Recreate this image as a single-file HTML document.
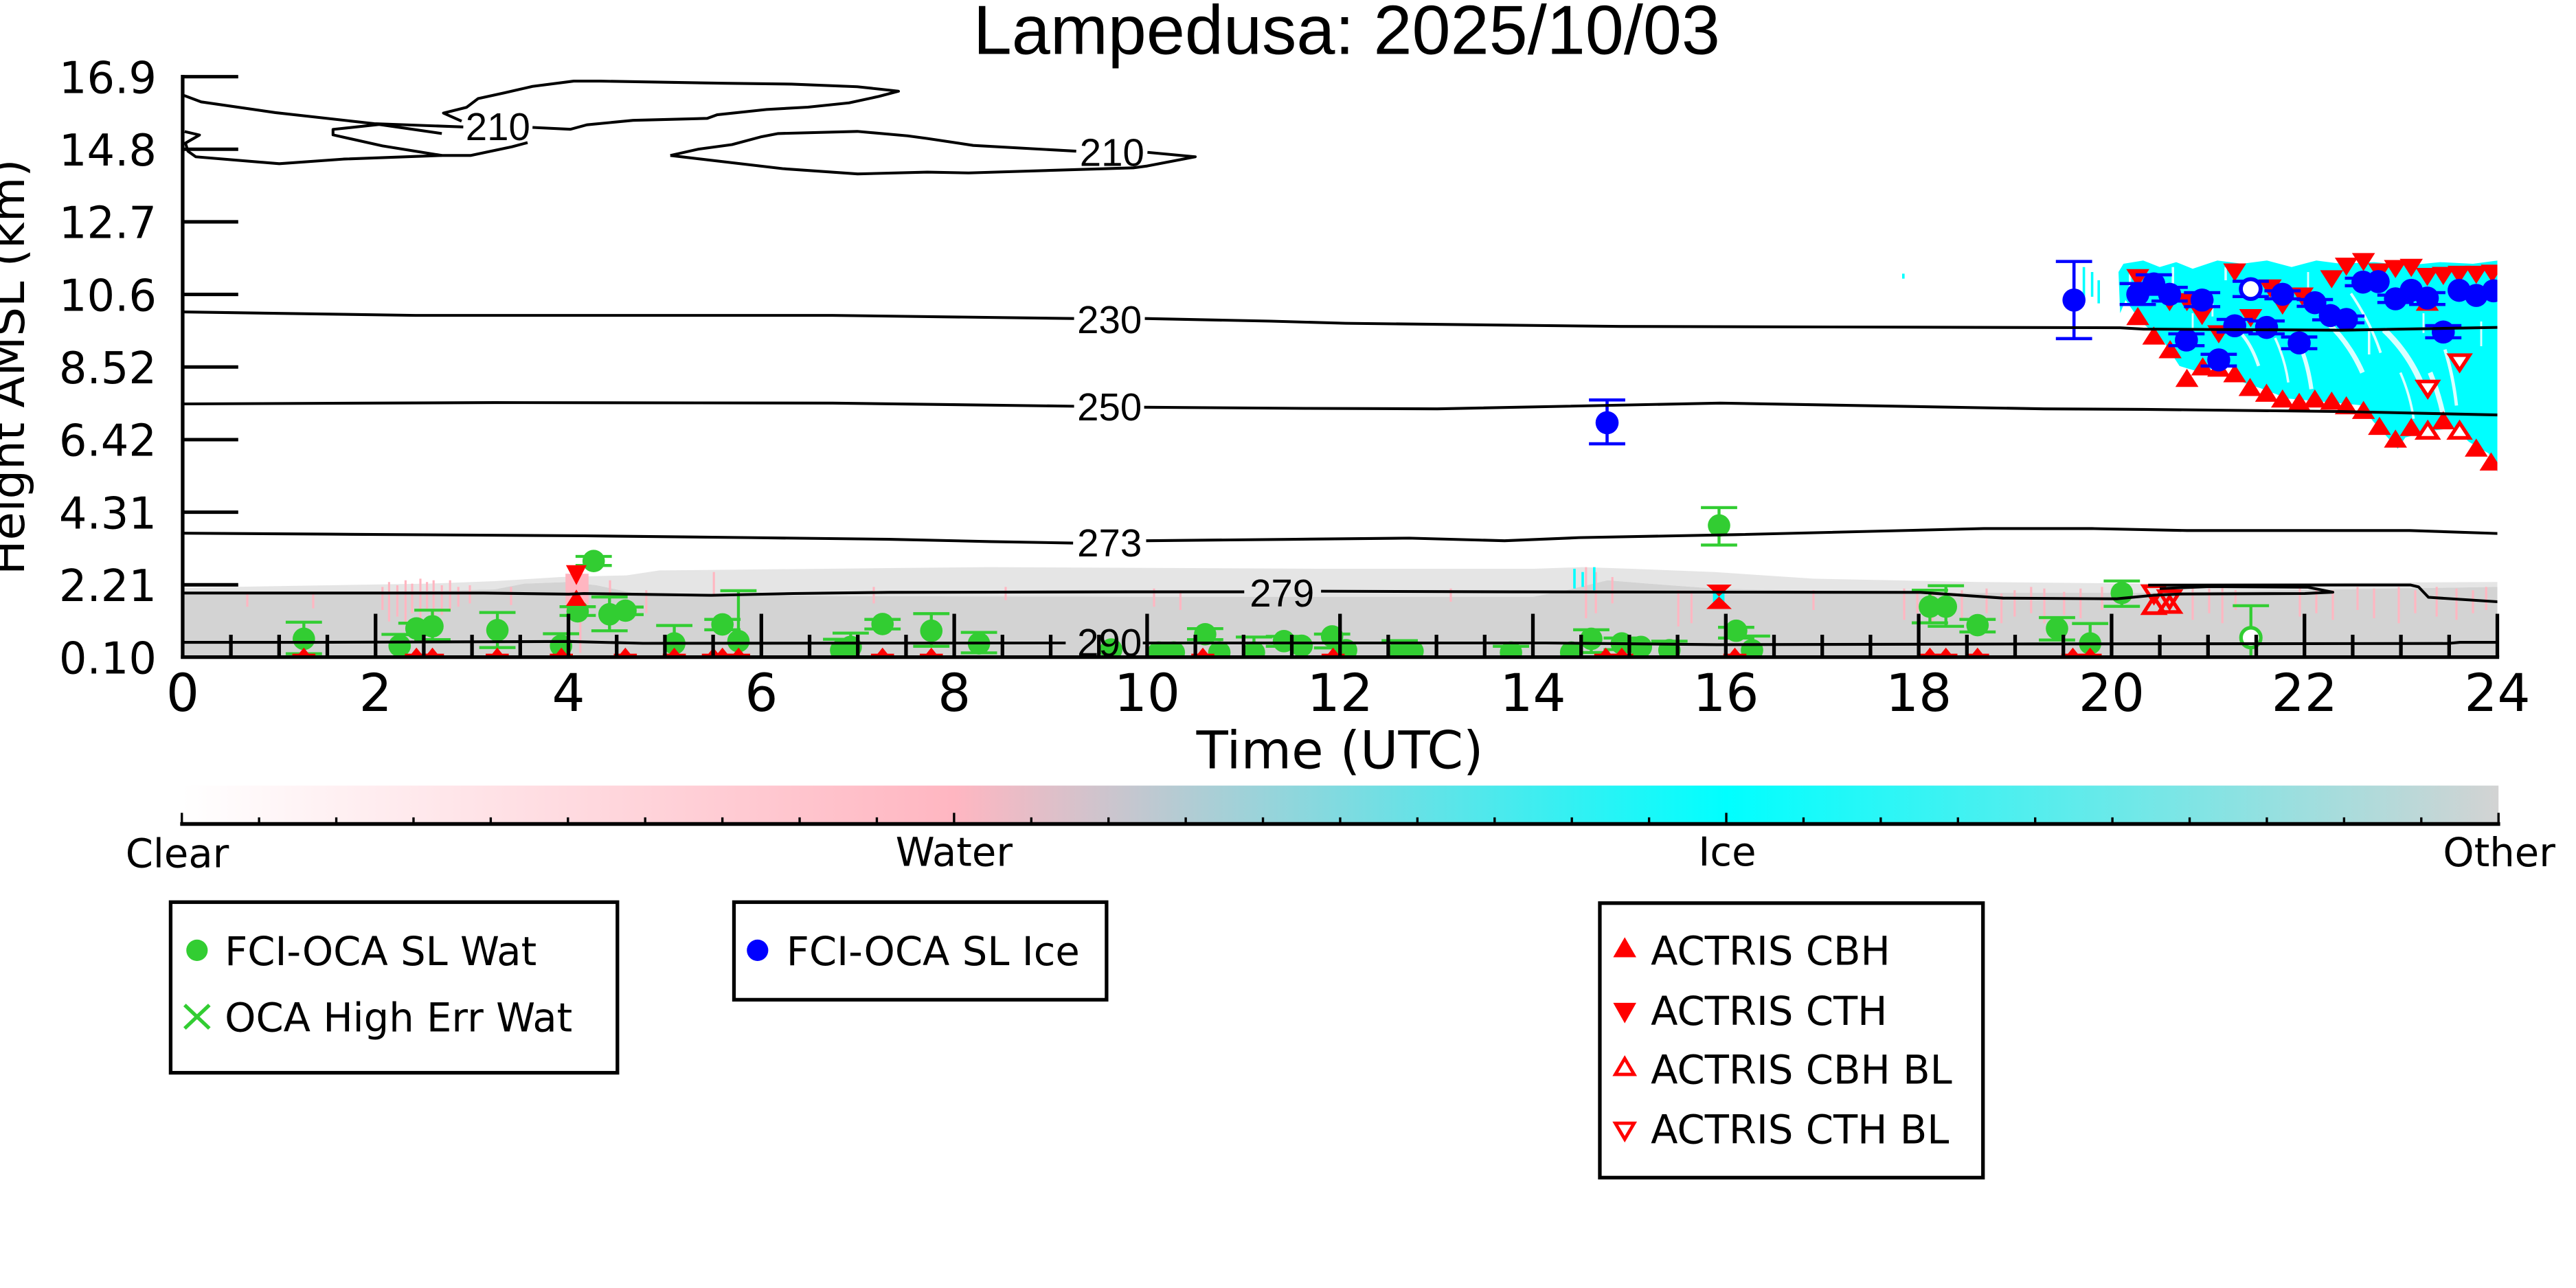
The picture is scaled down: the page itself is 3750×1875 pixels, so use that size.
<!DOCTYPE html>
<html><head><meta charset="utf-8"><style>
html,body{margin:0;padding:0;background:#fff;}
svg{display:block;}
</style></head><body>
<svg xmlns="http://www.w3.org/2000/svg" width="3750" height="1875" viewBox="0 0 1562.5 781.25">
<defs>
<linearGradient id="cb" x1="0" y1="0" x2="1" y2="0">
<stop offset="0" stop-color="#ffffff"/>
<stop offset="0.3333" stop-color="#ffb6c1"/>
<stop offset="0.6667" stop-color="#00ffff"/>
<stop offset="1" stop-color="#d3d3d3"/>
</linearGradient>
<clipPath id="pc"><rect x="110.8" y="40" width="1404" height="358.5"/></clipPath>
<path id="tu" d="M0,-5.5 L7,5.5 L-7,5.5Z" fill="#ff0000"/>
<path id="td" d="M-7,-5.5 L7,-5.5 L0,5.5Z" fill="#ff0000"/>
<path id="tuo" d="M0,-4.5 L6,4.6 L-6,4.6Z" fill="#fff" stroke="#ff0000" stroke-width="2.2"/>
<path id="tdo" d="M-6,-4.6 L6,-4.6 L0,4.5Z" fill="#fff" stroke="#ff0000" stroke-width="2.2"/>
<path id="rb" d="M0,-4.7 L3,-1 L7,-1 L7,1 L-7,1 L-7,-1 L-3,-1Z" fill="#ff0000"/>
<circle id="gc" r="6.8" fill="#32cd32"/>
<circle id="bc" r="7" fill="#0000ff"/>
</defs>

<!-- Title -->
<text x="590.3" y="32.6" font-family="Liberation Sans, Arial, sans-serif" font-size="42" fill="#000">Lampedusa: 2025/10/03</text>

<g clip-path="url(#pc)">
<!-- gray Other band -->
<path d="M110.8,359.5 L110.8,356.5 L200,355 L260,354 L300,352.5 L340,350 L380,349 L400,346 L600,344 L800,345 L930,345 L960,344 L990,345 L1040,347 L1100,351 L1200,353 L1300,354 L1515,353 L1515,356 L1450,357 L1300,359.5 L1160,359.5 L1040,357 L1000,354 L975,352 L950,358 L930,362 L700,362 L500,361.5 L383,359.5 L362,355 L345,353 L318,354 L300,357.5 L230,359 Z" fill="#d3d3d3" opacity="0.6"/>
<path d="M110.8,398.5 L110.8,359.5 L230,359 L300,357.5 L318,354 L345,353 L362,355 L383,359.5 L500,361.5 L700,362 L930,362 L950,358 L975,352 L1000,354 L1040,357 L1160,359.5 L1300,359.5 L1450,357 L1515,356 L1515,398.5 Z" fill="#d3d3d3"/>
<!-- pink streaks -->
<g stroke="#ffb6c1" stroke-width="1.3">
<path d="M232,356V370 M236,353V377 M241,355V374 M246,352V378 M250,354V372 M255,351V376 M259,353V371 M263,352V377 M268,355V373 M273,352V370 M278,356V368 M285,355V366 M150,360V368 M190,359V369 M310,356V367 M370,352V362 M392,358V372 M433,347V362 M530,356V366 M610,356V364 M700,357V368 M716,358V370 M880,357V365"/>
<path d="M962,344V375 M968,347V372 M978,350V366 M1018,358V380 M1026,360V378 M1100,358V370 M1155,357V376 M1163,360V372 M1172,357V378 M1190,358V376 M1205,357V372 M1214,360V378 M1222,358V374 M1232,356V372 M1240,357V378 M1252,359V373 M1262,357V375 M1275,356V370 M1330,356V376 M1340,357V372 M1348,356V378 M1356,358V370 M1395,356V374 M1405,357V372 M1415,358V376 M1430,356V370 M1440,357V375 M1455,356V378 M1465,358V372 M1478,356V374 M1490,357V376 M1500,358V372 M1508,356V370"/>
</g>
<rect x="343" y="348" width="14" height="22" fill="#ffb6c1"/>
<path d="M352,370V396" stroke="#ffb6c1" stroke-width="1.3"/>
<!-- cyan bits -->
<g stroke="#00ffff" stroke-width="1.5">
<path d="M955,345V357 M960,347V356 M967,344V358 M1264,162V182 M1269,165V180 M1273,170V184 M1154.5,166V169"/>
</g>
<rect x="1039" y="357" width="7" height="11" fill="#00ffff"/>
<!-- cyan ice region -->
<path d="M1286,190 L1285,165 L1288,160 L1300,158 L1310,162 L1320,159 L1330,163 L1345,158 L1360,160 L1375,158 L1390,162 L1405,158 L1420,160 L1440,159 L1460,161 L1480,159 L1500,160 L1515,158 L1515.5,287.5 L1509.5,275 L1497.6,268 L1488.7,259.7 L1476.8,261 L1459,265.3 L1454.4,272.2 L1439.5,255.6 L1432,245.8 L1417.2,244.4 L1387.5,241.7 L1372.6,236 L1360.7,232 L1353,222 L1332,225 L1322,222 L1313,208 L1298,194.4 L1289.3,182 Z" fill="#00ffff"/>
<g stroke="#fff" fill="none" opacity="0.85">
<path d="M1412,196 Q1425,208 1433,226" stroke-width="3"/>
<path d="M1446,200 Q1462,215 1470,236" stroke-width="3.5"/>
<path d="M1474,226 Q1479,238 1482,252" stroke-width="3"/>
<path d="M1396,212 Q1400,222 1402,236" stroke-width="2.5"/>
<path d="M1300,200 L1312,212" stroke-width="3"/>
<path d="M1360,203 Q1366,210 1370,222" stroke-width="2"/>
<path d="M1292,165 V180 M1318,162 V172 M1350,162 V170 M1437,200 V215" stroke-width="1.5"/>
<path d="M1426,178 Q1438,196 1444,214" stroke-width="1.6"/>
<path d="M1483,212 Q1488,228 1490,246" stroke-width="2"/>
<path d="M1380,205 Q1386,218 1388,232" stroke-width="1.5"/>
<path d="M1456,226 Q1462,240 1464,254" stroke-width="1.5"/>
<path d="M1330,190 V200 M1342,180 V192 M1400,165 V175 M1470,190 V202 M1505,195 V210" stroke-width="1.2"/>
</g>

<!-- green water points with error bars -->
<g stroke="#32cd32" stroke-width="1.8" fill="none">
<path d="M184.3,377.4V396.5 M173.3,377.4h22 M173.3,396.5h22"/>
<path d="M242.4,384.8V398 M231.4,384.8h22"/>
<path d="M252.6,378V385 M241.6,378h22 M241.6,385h22"/>
<path d="M262.3,370.1V388 M251.3,370.1h22 M251.3,388h22"/>
<path d="M301.7,371.5V392.8 M290.7,371.5h22 M290.7,392.8h22"/>
<path d="M340.3,384.4V399 M329.3,384.4h22"/>
<path d="M350.4,368V373.3 M339.4,368h22 M339.4,373.3h22"/>
<path d="M360.1,337.5V343 M349.1,337.5h22 M349.1,343h22"/>
<path d="M369.7,362.1V382.6 M358.7,362.1h22 M358.7,382.6h22"/>
<path d="M379.4,368.2V372.8 M368.4,368.2h22 M368.4,372.8h22"/>
<path d="M409,379.4V400 M398,379.4h22"/>
<path d="M438.2,375.7V382 M427.2,375.7h22 M427.2,382h22"/>
<path d="M447.9,358.3V400 M436.9,358.3h22"/>
<path d="M510.2,387.8V400 M499.2,387.8h22"/>
<path d="M516,384V400 M505,384h22"/>
<path d="M535.3,375.7V381.5 M524.3,375.7h22 M524.3,381.5h22"/>
<path d="M564.9,372.2V392 M553.9,372.2h22 M553.9,392h22"/>
<path d="M593.8,383.6V396 M582.8,383.6h22 M582.8,396h22"/>
<path d="M731,381.3V388 M720,381.3h22 M720,388h22"/>
<path d="M760.6,386.4V400 M749.6,386.4h22"/>
<path d="M778.8,386V392 M767.8,386h22 M767.8,392h22"/>
<path d="M808,384.6V393 M797,384.6h22 M797,393h22"/>
<path d="M849,388.6V400 M838,388.6h22"/>
<path d="M916.5,392V400 M905.5,392h22"/>
<path d="M965.2,382V395.8 M954.2,382h22 M954.2,395.8h22"/>
<path d="M983.7,387V394 M972.7,387h22 M972.7,394h22"/>
<path d="M1012.6,388.9V400 M1001.6,388.9h22"/>
<path d="M1042.7,307.9V330.6 M1031.7,307.9h22 M1031.7,330.6h22"/>
<path d="M1053.1,380.5V387 M1042.1,380.5h22 M1042.1,387h22"/>
<path d="M1062.7,385.8V400 M1051.7,385.8h22"/>
<path d="M1170.6,358V377.8 M1159.6,358h22 M1159.6,377.8h22"/>
<path d="M1180.3,355.3V379.9 M1169.3,355.3h22 M1169.3,379.9h22"/>
<path d="M1199.5,375.7V383.3 M1188.5,375.7h22 M1188.5,383.3h22"/>
<path d="M1247.7,374.6V388.2 M1236.7,374.6h22 M1236.7,388.2h22"/>
<path d="M1267.8,378.2V400 M1256.8,378.2h22"/>
<path d="M1287,352.4V367.8 M1276,352.4h22 M1276,367.8h22"/>
<path d="M1365.3,367.4V400 M1354.3,367.4h22"/>
</g>
<g>
<use href="#gc" x="184.3" y="387.5"/><use href="#gc" x="242.4" y="391.7"/><use href="#gc" x="252.6" y="381.2"/><use href="#gc" x="262.3" y="379.9"/>
<use href="#gc" x="301.7" y="382.2"/><use href="#gc" x="340.3" y="391.7"/><use href="#gc" x="350.4" y="370.8"/><use href="#gc" x="360.1" y="340.3"/>
<use href="#gc" x="369.7" y="372.6"/><use href="#gc" x="379.4" y="370.4"/><use href="#gc" x="409" y="390.3"/><use href="#gc" x="438.2" y="378.75"/>
<use href="#gc" x="447.9" y="388.9"/><use href="#gc" x="510.2" y="394.4"/><use href="#gc" x="516" y="392.4"/><use href="#gc" x="535.3" y="378.5"/>
<use href="#gc" x="564.9" y="382.6"/><use href="#gc" x="593.8" y="390.3"/><use href="#gc" x="674" y="394"/><use href="#gc" x="702.8" y="395.8"/>
<use href="#gc" x="712" y="395.8"/><use href="#gc" x="731" y="384.7"/><use href="#gc" x="739.6" y="395.8"/><use href="#gc" x="760.6" y="395.8"/>
<use href="#gc" x="778.8" y="388.9"/><use href="#gc" x="789.5" y="391.7"/><use href="#gc" x="808" y="386"/><use href="#gc" x="816.5" y="394.4"/>
<use href="#gc" x="849" y="395"/><use href="#gc" x="856.8" y="395"/><use href="#gc" x="916.5" y="395.8"/><use href="#gc" x="953" y="395.8"/>
<use href="#gc" x="965.2" y="387.5"/><use href="#gc" x="983.7" y="390.3"/><use href="#gc" x="995.3" y="392.4"/><use href="#gc" x="1012.6" y="394.4"/>
<use href="#gc" x="1042.7" y="318.75"/><use href="#gc" x="1053.1" y="382.6"/><use href="#gc" x="1062.7" y="394.4"/><use href="#gc" x="1170.6" y="368"/>
<use href="#gc" x="1180.3" y="368"/><use href="#gc" x="1199.5" y="379.2"/><use href="#gc" x="1247.7" y="381.25"/><use href="#gc" x="1267.8" y="390.3"/>
<use href="#gc" x="1287" y="359.7"/>
<circle cx="1365.3" cy="386.8" r="6" fill="#fff" stroke="#32cd32" stroke-width="2.2"/>
</g>

<!-- red small CBH near ground -->
<g>
<use href="#rb" x="184.3" y="397.5"/><use href="#rb" x="252.6" y="397.5"/><use href="#rb" x="262.3" y="397.5"/><use href="#rb" x="301.6" y="397.5"/>
<use href="#rb" x="340.5" y="397.5"/><use href="#rb" x="379.3" y="397.5"/><use href="#rb" x="409" y="397.5"/><use href="#rb" x="432.7" y="397.5"/>
<use href="#rb" x="438.2" y="397.5"/><use href="#rb" x="448" y="397.5"/><use href="#rb" x="535.3" y="397.5"/><use href="#rb" x="564.9" y="397.5"/>
<use href="#rb" x="729.6" y="397.5"/><use href="#rb" x="808.6" y="397.5"/><use href="#rb" x="974" y="397.5"/><use href="#rb" x="983.7" y="397.5"/>
<use href="#rb" x="1052.3" y="397.5"/><use href="#rb" x="1170.6" y="397.5"/><use href="#rb" x="1180.3" y="397.5"/><use href="#rb" x="1199.5" y="397.5"/>
<use href="#rb" x="1257.3" y="397.5"/><use href="#rb" x="1267.8" y="397.5"/>
</g>
<!-- hourglasses -->
<path d="M343.3,342.8 L355.8,342.8 L349.6,354.9Z M349.6,357.6 L355.8,367.5 L343.3,367.5Z" fill="#ff0000"/>
<path d="M1035,354.6 L1050.4,354.6 L1042.7,361.8Z M1042.7,361.8 L1050.4,369.4 L1035,369.4Z" fill="#ff0000"/>
<!-- open BL triangles near 20.5h -->
<g fill="none" stroke="#ff0000" stroke-width="2.2">
<path d="M1300.2,355.6 L1312.8,355.6 L1306.5,365.3Z"/>
<path d="M1309.7,358.6 L1322.3,358.6 L1316,368.7Z"/>
<path d="M1306.5,362 L1312.8,371.9 L1300.2,371.9Z"/>
<path d="M1316,362 L1322.3,371.2 L1309.7,371.2Z"/>
</g>

<!-- red filled CTH (down) -->
<g>
<use href="#td" x="1296.7" y="168.75"/><use href="#td" x="1316" y="183.3"/><use href="#td" x="1326.5" y="183.3"/><use href="#td" x="1335.7" y="191.7"/>
<use href="#td" x="1345.8" y="202.8"/><use href="#td" x="1355.5" y="165.3"/><use href="#td" x="1365.2" y="193"/><use href="#td" x="1377" y="175"/>
<use href="#td" x="1384.5" y="185.4"/><use href="#td" x="1396.4" y="179.9"/><use href="#td" x="1414.3" y="169.4"/><use href="#td" x="1423.2" y="161.8"/>
<use href="#td" x="1433.6" y="159"/><use href="#td" x="1443.3" y="165.3"/><use href="#td" x="1453" y="163.2"/><use href="#td" x="1462.6" y="162.5"/>
<use href="#td" x="1472.3" y="168"/><use href="#td" x="1482" y="167.4"/><use href="#td" x="1491.6" y="166.7"/><use href="#td" x="1502" y="166.7"/>
<use href="#td" x="1511.7" y="166"/>
</g>
<!-- red filled CBH (up) -->
<g>
<use href="#tu" x="1296.7" y="191.7"/><use href="#tu" x="1306.4" y="203.5"/><use href="#tu" x="1316.3" y="211.8"/><use href="#tu" x="1326.5" y="229.2"/>
<use href="#tu" x="1336.1" y="222.2"/><use href="#tu" x="1345.8" y="223"/><use href="#tu" x="1355.5" y="226.4"/><use href="#tu" x="1364.8" y="234.7"/>
<use href="#tu" x="1374.8" y="238.2"/><use href="#tu" x="1384.5" y="241.7"/><use href="#tu" x="1394.6" y="243.75"/><use href="#tu" x="1404.1" y="241.7"/>
<use href="#tu" x="1414.3" y="243"/><use href="#tu" x="1423.2" y="245.8"/><use href="#tu" x="1433.6" y="248.6"/><use href="#tu" x="1443.3" y="258.3"/>
<use href="#tu" x="1453" y="266"/><use href="#tu" x="1462.6" y="259"/><use href="#tu" x="1482" y="254.9"/><use href="#tu" x="1502" y="271.5"/>
<use href="#tu" x="1511" y="279.9"/><use href="#tu" x="1472.3" y="183"/>
</g>
<g>
<use href="#tuo" x="1472.6" y="261"/><use href="#tuo" x="1491.9" y="261"/>
<use href="#tdo" x="1491.9" y="220"/><use href="#tdo" x="1472.6" y="236"/>
</g>

<!-- blue ice points -->
<g stroke="#0000ff" stroke-width="1.9" fill="none">
<path d="M974.8,242.6V269.2 M963.8,242.6h22 M963.8,269.2h22"/>
<path d="M1258,158.6V205.4 M1247,158.6h22 M1247,205.4h22"/>
<path d="M1285.7,172h22 M1285.7,184.7h22"/>
<path d="M1295.4,166.7h22 M1295.4,178.5h22"/>
<path d="M1305,174.3h22 M1305,182.6h22"/>
<path d="M1324.7,177.5h22 M1324.7,186h22"/>
<path d="M1315.2,202.5h22 M1315.2,209.7h22"/>
<path d="M1334.8,214.9h22 M1334.8,222h22"/>
<path d="M1344.5,193.75h22 M1344.5,201.4h22"/>
<path d="M1354.2,170.6h22 M1354.2,179.9h22"/>
<path d="M1363.8,194.7h22 M1363.8,202.5h22"/>
<path d="M1373.5,176.4h22 M1373.5,181.25h22"/>
<path d="M1383.6,204.4h22 M1383.6,211.5h22"/>
<path d="M1393.1,181.7h22 M1393.1,185.8h22"/>
<path d="M1402.5,189h22 M1402.5,194h22"/>
<path d="M1412.2,191.7h22 M1412.2,195.8h22"/>
<path d="M1422.3,168.75h22 M1422.3,173.3h22"/>
<path d="M1442,179h22 M1442,183.5h22"/>
<path d="M1461.3,177.5h22 M1461.3,184.7h22"/>
<path d="M1471,197.5h22 M1471,204.9h22"/>
</g>
<g>
<use href="#bc" x="974.8" y="256.4"/><use href="#bc" x="1258" y="182"/>
<use href="#bc" x="1296.7" y="178.5"/><use href="#bc" x="1306.4" y="172.2"/><use href="#bc" x="1316" y="178.5"/><use href="#bc" x="1335.7" y="182"/>
<use href="#bc" x="1326.2" y="206.25"/><use href="#bc" x="1345.8" y="218.3"/><use href="#bc" x="1355.5" y="197.6"/>
<use href="#bc" x="1374.8" y="198.6"/><use href="#bc" x="1384.5" y="178.5"/><use href="#bc" x="1394.6" y="208"/><use href="#bc" x="1404.1" y="183.6"/>
<use href="#bc" x="1413.5" y="191.4"/><use href="#bc" x="1423.2" y="193.75"/><use href="#bc" x="1433.3" y="171.1"/><use href="#bc" x="1442.5" y="170.8"/>
<use href="#bc" x="1453" y="181.25"/><use href="#bc" x="1462.6" y="176.1"/><use href="#bc" x="1472.3" y="180.8"/><use href="#bc" x="1482" y="201.4"/>
<use href="#bc" x="1491.6" y="176.1"/><use href="#bc" x="1502" y="179.2"/><use href="#bc" x="1512.5" y="176.4"/>
<circle cx="1365.2" cy="175.3" r="6" fill="#fff" stroke="#0000ff" stroke-width="2.4"/>
</g>

<!-- contour lines -->
<g fill="none" stroke="#000" stroke-width="1.7" stroke-linejoin="round">
<path d="M323,77.3 L346,78.4 L356,75.7 L384,73 L429,71.8 L435,69.6 L465,66.4 L490,65 L515,62.4 L533,58.5 L545,55.3 L520,52.6 L480,51 L439,50.5 L364,49.2 L348,49.2 L323,52.4 L306,56.3 L290,59.8 L283,65.1 L269,68.6 L280,73.5"/>
<path d="M110.8,57.6 L122,61.8 L167,68.3 L227,75 L281,77"/>
<path d="M268,81 L230,75.5 L202,78.5 L202,81.8 L232,88.5 L268,94.3"/>
<path d="M112,79.8 L121,81.9 L112.5,86.8 L114,91.7 L118.75,95.1 L169.4,99.3 L208.3,96.5 L268,94.3 L285.4,94.3 L310.6,89 L320,86.5"/>
<path d="M406.6,94.3 L424,90.4 L444,87.7 L462,82.9 L472,81 L520,79.7 L550.5,82.4 L562.5,84 L590.3,88.2 L652.8,91.7"/>
<path d="M696,92.4 L725,95.1 L695.8,100.7 L687.5,101.8 L587.5,104.9 L562.5,104.4 L520.2,105.5 L474.7,102.3 L406.6,94.3"/>
<path d="M110.8,189.2 L252,191.3 L505,191.3 L651.5,193.2"/>
<path d="M694.4,193.2 L770.8,194.8 L816.2,196.1 L983,198 L1286,198.8 L1300,199.6 L1420,200.3 L1515,198.6"/>
<path d="M110.8,245 L300,244.2 L505,244.5 L651.5,246.4"/>
<path d="M694,247 L792,247.7 L871.8,248 L1043.5,244.5 L1240,248 L1300,248.3 L1420,249.6 L1515,251.7"/>
<path d="M110.8,323.4 L200,324 L354.2,325 L454.2,326.1 L539.3,327.1 L600.9,328.5 L650.9,329.4"/>
<path d="M695.2,328 L785.7,327.1 L854.8,326.4 L912.6,328 L958,326.1 L1053,324.3 L1203.4,320.6 L1269,320.6 L1326.7,321.8 L1461.6,321.8 L1515,323.6"/>
<path d="M110.8,359.7 L293.5,359.7 L345,360.4 L354.2,360 L431.4,361.1 L481.4,360 L539.3,359.3 L685.7,359 L754.7,359"/>
<path d="M801.3,358.6 L916.9,359 L1164.9,359.3 L1215,362.8 L1284,363.2 L1307,361 L1323,360.3 L1398,360 L1415,359.2 L1400,356.2 L1340,355.8 L1310,357"/>
<path d="M1303,354.9 L1462,354.8 L1467,356 L1473,362.3 L1515,365 L1520,365.3"/>
<path d="M110.8,389.6 L190,389.6 L345,389.1 L390,390.2 L646.4,390"/>
<path d="M693.2,390 L937.5,390 L1041.5,391 L1230.4,390.6 L1484.7,390.3 L1492,389.6 L1515,389.6"/>
</g>
<g font-family="Liberation Sans, Arial, sans-serif" font-size="23.5" text-anchor="middle" fill="#000">
<text x="302" y="85">210</text>
<text x="674.5" y="100.7">210</text>
<text x="673" y="202">230</text>
<text x="673" y="255.1">250</text>
<text x="673" y="337.5">273</text>
<text x="777.6" y="368">279</text>
<text x="673" y="398">290</text>
</g>
</g>

<!-- axes -->
<g stroke="#000" fill="none">
<path d="M110.8,45.4V399.6" stroke-width="2.2"/>
<path d="M109.7,398.6H1515.9" stroke-width="2.2"/>
<path d="M110.8,46.5H144.5 M110.8,90.53H144.5 M110.8,134.56H144.5 M110.8,178.59H144.5 M110.8,222.62H144.5 M110.8,266.65H144.5 M110.8,310.68H144.5 M110.8,354.71H144.5" stroke-width="2.1"/>
<path d="M227.8,372.3V398.6 M344.8,372.3V398.6 M461.8,372.3V398.6 M578.8,372.3V398.6 M695.8,372.3V398.6 M812.8,372.3V398.6 M929.8,372.3V398.6 M1046.8,372.3V398.6 M1163.8,372.3V398.6 M1280.8,372.3V398.6 M1397.8,372.3V398.6 M1514.8,372.3V398.6" stroke-width="2.2"/>
<path d="M140.05,385V398.6 M169.3,385V398.6 M198.55,385V398.6 M257.05,385V398.6 M286.3,385V398.6 M315.55,385V398.6 M374.05,385V398.6 M403.3,385V398.6 M432.55,385V398.6 M491.05,385V398.6 M520.3,385V398.6 M549.55,385V398.6 M608.05,385V398.6 M637.3,385V398.6 M666.55,385V398.6 M725.05,385V398.6 M754.3,385V398.6 M783.55,385V398.6 M842.05,385V398.6 M871.3,385V398.6 M900.55,385V398.6 M959.05,385V398.6 M988.3,385V398.6 M1017.55,385V398.6 M1076.05,385V398.6 M1105.3,385V398.6 M1134.55,385V398.6 M1193.05,385V398.6 M1222.3,385V398.6 M1251.55,385V398.6 M1310.05,385V398.6 M1339.3,385V398.6 M1368.55,385V398.6 M1427.05,385V398.6 M1456.3,385V398.6 M1485.55,385V398.6" stroke-width="2.2"/>
</g>

<!-- y tick labels -->
<g font-family="DejaVu Sans, sans-serif" font-size="26.6" text-anchor="end" fill="#000">
<text x="95" y="56.4">16.9</text>
<text x="95" y="100.4">14.8</text>
<text x="95" y="144.4">12.7</text>
<text x="95" y="188.5">10.6</text>
<text x="95" y="232.5">8.52</text>
<text x="95" y="276.5">6.42</text>
<text x="95" y="320.6">4.31</text>
<text x="95" y="364.6">2.21</text>
<text x="95" y="408.6">0.10</text>
</g>
<text transform="translate(14.6,222.6) rotate(-90)" font-family="DejaVu Sans, sans-serif" font-size="28" text-anchor="middle" fill="#000">Height AMSL (km)</text>

<!-- x tick labels -->
<g font-family="DejaVu Sans, sans-serif" font-size="31.5" text-anchor="middle" fill="#000">
<text x="110.8" y="431.3">0</text>
<text x="227.8" y="431.3">2</text>
<text x="344.8" y="431.3">4</text>
<text x="461.8" y="431.3">6</text>
<text x="578.8" y="431.3">8</text>
<text x="695.8" y="431.3">10</text>
<text x="812.8" y="431.3">12</text>
<text x="929.8" y="431.3">14</text>
<text x="1046.8" y="431.3">16</text>
<text x="1163.8" y="431.3">18</text>
<text x="1280.8" y="431.3">20</text>
<text x="1397.8" y="431.3">22</text>
<text x="1514.8" y="431.3">24</text>
<text x="812.75" y="466">Time (UTC)</text>
</g>

<!-- colorbar -->
<rect x="110.3" y="476.5" width="1405.2" height="23" fill="url(#cb)"/>
<g stroke="#000" fill="none">
<path d="M109.3,499.8H1516.5" stroke-width="2.3"/>
<path d="M110.3,493V499 M578.7,493V499 M1047.1,493V499 M1515.5,493V499" stroke-width="1.4"/>
<path d="M157.14,495.8V499 M203.98,495.8V499 M250.82,495.8V499 M297.66,495.8V499 M344.5,495.8V499 M391.34,495.8V499 M438.18,495.8V499 M485.02,495.8V499 M531.86,495.8V499 M625.54,495.8V499 M672.38,495.8V499 M719.22,495.8V499 M766.06,495.8V499 M812.9,495.8V499 M859.74,495.8V499 M906.58,495.8V499 M953.42,495.8V499 M1000.26,495.8V499 M1093.94,495.8V499 M1140.78,495.8V499 M1187.62,495.8V499 M1234.46,495.8V499 M1281.3,495.8V499 M1328.14,495.8V499 M1374.98,495.8V499 M1421.82,495.8V499 M1468.66,495.8V499" stroke-width="1.4"/>
</g>
<g font-family="DejaVu Sans, sans-serif" font-size="24" text-anchor="middle" fill="#000">
<text x="107.5" y="526">Clear</text>
<text x="578.7" y="525.3">Water</text>
<text x="1047.7" y="525">Ice</text>
<text x="1515.9" y="525.5">Other</text>
</g>

<!-- legends -->
<g fill="none" stroke="#000" stroke-width="2.2">
<rect x="103.5" y="547.2" width="271" height="103.5"/>
<rect x="445.2" y="547.2" width="226" height="59.2"/>
<rect x="970.4" y="547.8" width="232.4" height="166.5"/>
</g>
<circle cx="119.5" cy="576.4" r="6.5" fill="#32cd32"/>
<path d="M112,609.6 L127,623.8 M127,609.6 L112,623.8" stroke="#32cd32" stroke-width="2.2"/>
<circle cx="459.5" cy="576.4" r="6.5" fill="#0000ff"/>
<path d="M985.5,568.5 L992.5,580.6 L978.5,580.6Z" fill="#ff0000"/>
<path d="M978.5,608.3 L992.5,608.3 L985.5,620.7Z" fill="#ff0000"/>
<path d="M985.5,642 L991.2,651.7 L979.8,651.7Z" fill="#fff" stroke="#ff0000" stroke-width="2"/>
<path d="M979.8,681.3 L991.2,681.3 L985.5,691Z" fill="#fff" stroke="#ff0000" stroke-width="2"/>
<g font-family="DejaVu Sans, sans-serif" font-size="24" fill="#000">
<text x="136.3" y="585.4">FCI-OCA SL Wat</text>
<text x="136.3" y="625.7">OCA High Err Wat</text>
<text x="477" y="585.4">FCI-OCA SL Ice</text>
<text x="1001.3" y="585.3">ACTRIS CBH</text>
<text x="1001.3" y="621.6">ACTRIS CTH</text>
<text x="1001.3" y="657.3">ACTRIS CBH BL</text>
<text x="1001.3" y="693.6">ACTRIS CTH BL</text>
</g>
</svg>
</body></html>
